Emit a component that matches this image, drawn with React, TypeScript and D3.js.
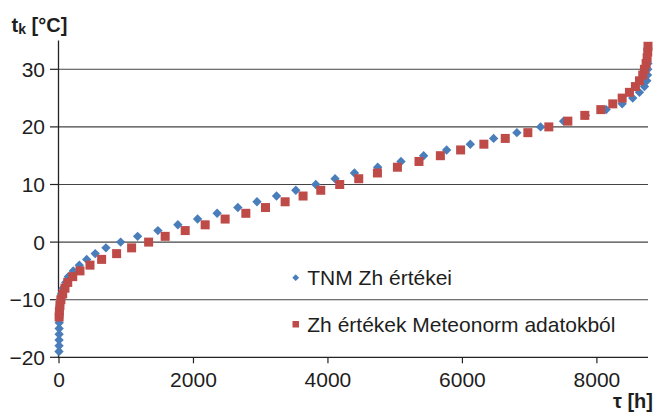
import React from "react";
import * as d3 from "d3";

const xTicks = [0, 2000, 4000, 6000, 8000];
const yTicks = [-20, -10, 0, 10, 20, 30];
const yGrid = [-10, 0, 10, 20, 30];

const tnmTemps = [
  -19, -18, -17, -16, -15, -14, -13, -12, -11, -10, -9, -8, -7, -6, -5, -4, -3, -2, -1,
  0, 1, 2, 3, 4, 5, 6, 7, 8, 9, 10, 11, 12, 13, 14, 15, 16, 17, 18, 19, 20, 21, 22, 23,
  24, 25, 26, 27, 28, 29, 30, 31,
];
const tnmHours = [
  0, 1, 1, 2, 2, 3, 4, 6, 11, 20, 36, 60, 100, 138, 212, 302, 412, 539, 698,
  917, 1169, 1471, 1768, 2061, 2352, 2660, 2945, 3235, 3522, 3819, 4106, 4394, 4740, 5086, 5423, 5765, 6117, 6464, 6810, 7162, 7504, 7830, 8138,
  8376, 8533, 8633, 8707, 8742, 8752, 8756, 8758,
];

const metTemps = [
  -13, -12, -11, -10, -9, -8, -7, -6, -5, -4, -3, -2, -1, 0, 1, 2, 3, 4, 5, 6, 7, 8,
  9, 10, 11, 12, 13, 14, 15, 16, 17, 18, 19, 20, 21, 22, 23, 24, 25, 26, 27, 28, 29,
  30, 31, 32, 33, 34,
];
const metHours = [
  2, 6, 14, 28, 55, 89, 130, 204, 312, 461, 634, 857, 1080, 1333, 1579, 1877, 2174, 2471, 2779, 3071, 3363, 3630,
  3893, 4175, 4458, 4736, 5033, 5354, 5672, 5973, 6319, 6637, 6973, 7285, 7568, 7820, 8058, 8236, 8376, 8484, 8573, 8633, 8682,
  8707, 8732, 8747, 8756, 8760,
];

const seriesNames = ["TNM Zh értékei", "Zh értékek Meteonorm adatokból"];
const blue = "#4a7ebb";
const red = "#be4b48";
const font = "'Liberation Sans', Arial, sans-serif";

export default function App() {
  const W = 656;
  const H = 414;
  const x = d3.scaleLinear().domain([0, 8760]).range([59, 648]);
  const y = d3.scaleLinear().domain([-20, 35]).range([357.3, 40.5]);
  const diamond = (r: number) => `M0,${-r}L${r},0L0,${r}L${-r},0Z`;
  const fmtY = (v: number) => (v < 0 ? "\u2212" + Math.abs(v) : String(v));

  const tnm = tnmTemps.map((t, i) => ({ t, h: tnmHours[i] }));
  const met = metTemps.map((t, i) => ({ t, h: metHours[i] }));
  const sq = 9;
  const fs = 21;

  return (
    <svg
      width={W}
      height={H}
      style={{ position: "absolute", left: 0, top: 0, background: "#fff" }}
      fontFamily={font}
    >
      <rect width={W} height={H} fill="#fff" />
      {yGrid.map((v) => (
        <line key={"g" + v} x1={x(0)} x2={648} y1={y(v)} y2={y(v)} stroke="#444" strokeWidth={1.1} />
      ))}
      {/* axes */}
      <line x1={58.5} x2={58.5} y1={y(35)} y2={y(-20)} stroke="#222" strokeWidth={1.3} />
      <line x1={58} x2={648} y1={y(-20)} y2={y(-20)} stroke="#222" strokeWidth={1.3} />
      {yTicks.map((v) => (
        <g key={"yt" + v}>
          <line x1={50} x2={58.5} y1={y(v)} y2={y(v)} stroke="#222" strokeWidth={1.2} />
          <text x={45} y={y(v)} dy="0.36em" textAnchor="end" fontSize={fs} fill="#1e1e1e">
            {fmtY(v)}
          </text>
        </g>
      ))}
      {xTicks.map((v) => (
        <g key={"xt" + v}>
          <line x1={x(v)} x2={x(v)} y1={y(-20)} y2={y(-20) + 6} stroke="#222" strokeWidth={1.2} />
          <text x={x(v)} y={386.7} textAnchor="middle" fontSize={fs} fill="#1e1e1e">
            {v}
          </text>
        </g>
      ))}
      {/* series */}
      {tnm.map((d, i) => (
        <path key={"b" + i} d={diamond(4.7)} transform={`translate(${x(d.h)},${y(d.t)})`} fill={blue} />
      ))}
      {met.map((d, i) => (
        <rect key={"r" + i} x={x(d.h) - sq / 2} y={y(d.t) - sq / 2} width={sq} height={sq} fill={red} />
      ))}
      {/* legend */}
      <path d={diamond(3.4)} transform="translate(295.7,277.7)" fill={blue} />
      <text x={307.3} y={285} fontSize={fs} fill="#1e1e1e">{seriesNames[0]}</text>
      <rect x={292.5} y={321} width={6.5} height={6.5} fill={red} />
      <text x={307.3} y={332.3} fontSize={fs} fill="#1e1e1e">{seriesNames[1]}</text>
      {/* axis titles */}
      <text x={11.5} y={31.7} fontSize={20} fontWeight="bold" fill="#1e1e1e">
        t<tspan fontSize={14} dy={2}>k</tspan>
        <tspan dy={-2}> [°C]</tspan>
      </text>
      <text x={653} y={408.3} fontSize={20} fontWeight="bold" fill="#1e1e1e" textAnchor="end">
        τ [h]
      </text>
    </svg>
  );
}
